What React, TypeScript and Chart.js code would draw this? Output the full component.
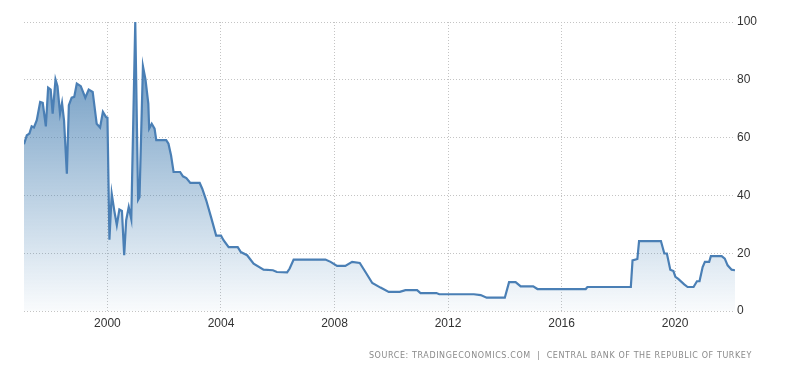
import React, { useEffect, useRef } from "react";
import { Chart, registerables } from "chart.js";

Chart.register(...registerables);

const dates: number[] = [
  1997.06, 1997.16, 1997.25, 1997.33, 1997.41, 1997.51, 1997.63, 1997.72, 1997.83, 1997.91,
  1998.0, 1998.07, 1998.17, 1998.24, 1998.33, 1998.4, 1998.47, 1998.57, 1998.64, 1998.74,
  1998.83, 1998.92, 1999.06, 1999.22, 1999.34, 1999.48, 1999.62, 1999.74, 1999.84, 1999.95,
  2000.0, 2000.07, 2000.15, 2000.24, 2000.33, 2000.42, 2000.51, 2000.59, 2000.66, 2000.75,
  2000.84, 2000.98, 2001.08, 2001.13, 2001.25, 2001.34, 2001.44, 2001.47, 2001.56, 2001.66,
  2001.72, 2002.07, 2002.15, 2002.24, 2002.33, 2002.56, 2002.66, 2002.78, 2002.92, 2003.25,
  2003.34, 2003.48, 2003.65, 2003.83, 2004.0, 2004.09, 2004.27, 2004.59, 2004.7, 2004.92,
  2005.15, 2005.5, 2005.83, 2005.97, 2006.33, 2006.42, 2006.56, 2007.68, 2007.86, 2008.09,
  2008.38, 2008.62, 2008.89, 2009.09, 2009.33, 2009.62, 2009.91, 2010.3, 2010.5, 2010.91,
  2011.03, 2011.59, 2011.69, 2012.91, 2013.15, 2013.36, 2014.0, 2014.15, 2014.38, 2014.56,
  2015.0, 2015.15, 2016.85, 2016.91, 2018.44, 2018.5, 2018.67, 2018.73, 2019.5, 2019.62,
  2019.71, 2019.83, 2019.94, 2020.01, 2020.11, 2020.32, 2020.44, 2020.65, 2020.77, 2020.86,
  2020.97, 2021.05, 2021.2, 2021.26, 2021.64, 2021.75, 2021.85, 2021.99, 2022.11,
];

const rates: number[] = [
  57.7, 60.8, 61.4, 63.9, 63.5, 66.0, 72.3, 72.0, 63.9, 77.3,
  76.6, 68.3, 80.1, 77.8, 68.3, 72.0, 66.0, 47.5, 71.2, 73.8,
  74.1, 78.7, 77.8, 73.8, 76.6, 75.8, 64.8, 63.5, 68.9, 67.1,
  66.9, 24.7, 40.6, 34.8, 29.7, 35.1, 34.6, 19.3, 31.4, 36.0,
  31.8, 100, 38.5, 39.4, 84.7, 80.1, 71.8, 63.1, 64.8, 63.1,
  59.1, 59.1, 57.9, 53.9, 48.1, 48.1, 46.6, 46.0, 44.3, 44.3,
  42.3, 38.3, 32.5, 26.1, 26.1, 24.5, 22.1, 22.1, 20.4, 19.3,
  16.4, 14.3, 14.1, 13.5, 13.4, 14.7, 17.8, 17.8, 17.0, 15.6,
  15.6, 17.0, 16.6, 13.5, 9.7, 8.1, 6.6, 6.6, 7.2, 7.2,
  6.2, 6.2, 5.8, 5.8, 5.5, 4.6, 4.6, 10.0, 10.0, 8.5,
  8.5, 7.6, 7.6, 8.3, 8.3, 17.5, 18.0, 24.2, 24.2, 19.9,
  19.9, 14.3, 13.8, 11.8, 11.1, 9.2, 8.3, 8.3, 10.3, 10.3,
  15.2, 17.0, 17.0, 19.0, 19.0, 18.1, 15.8, 14.3, 14.1,
];

const xTickYears: number[] = [2000, 2004, 2008, 2012, 2016, 2020];
const yTicks: number[] = [0, 20, 40, 60, 80, 100];
const sourceText = "SOURCE: TRADINGECONOMICS.COM  |  CENTRAL BANK OF THE REPUBLIC OF TURKEY";

export default function App() {
  const canvasRef = useRef<HTMLCanvasElement | null>(null);

  useEffect(() => {
    document.body.style.margin = "0";
    const canvas = canvasRef.current;
    if (!canvas) return;
    const points = dates.map((d, i) => ({ x: d, y: rates[i] }));
    const chart = new Chart(canvas, {
      type: "line",
      data: {
        datasets: [
          {
            data: points,
            borderColor: "#4a7fb5",
            borderWidth: 2.2,
            pointRadius: 0,
            tension: 0,
            fill: "origin",
            backgroundColor: (ctx: any) => {
              const area = ctx.chart.chartArea;
              if (!area) return "rgba(70,130,180,0.4)";
              const g = ctx.chart.ctx.createLinearGradient(0, area.top, 0, area.bottom);
              g.addColorStop(0, "rgba(60,118,172,0.85)");
              g.addColorStop(1, "rgba(70,130,180,0.03)");
              return g;
            },
          },
        ],
      },
      options: {
        animation: false,
        responsive: false,
        layout: { padding: { left: 24, top: 22, right: 0, bottom: 40 } },
        plugins: { legend: { display: false }, tooltip: { enabled: false } },
        scales: {
          x: {
            type: "linear",
            min: 1997.06,
            max: 2022.11,
            afterBuildTicks: (scale: any) => {
              scale.ticks = xTickYears.map((v) => ({ value: v }));
            },
            afterFit: (scale: any) => {
              scale.height = 22;
            },
            border: { display: false, dash: [1, 2] },
            grid: { color: "#c4c4c4", lineWidth: 1, drawTicks: false },
            ticks: {
              padding: 5,
              color: "#333",
              font: { family: "'Liberation Sans', Arial, sans-serif", size: 12 },
              callback: (v: any) => String(v),
              maxRotation: 0,
              autoSkip: false,
            },
          },
          y: {
            position: "right",
            min: 0,
            max: 100,
            afterBuildTicks: (scale: any) => {
              scale.ticks = yTicks.map((v) => ({ value: v }));
            },
            afterFit: (scale: any) => {
              scale.width = 65;
            },
            border: { display: false, dash: [1, 2] },
            grid: { color: "#c4c4c4", lineWidth: 1, drawTicks: false },
            ticks: {
              padding: 2,
              color: "#333",
              font: { family: "'Liberation Sans', Arial, sans-serif", size: 12 },
              callback: (v: any) => String(v),
            },
          },
        },
      },
    } as any);
    return () => chart.destroy();
  }, []);

  return (
    <div style={{ position: "absolute", left: 0, top: 0, width: 800, height: 373, background: "#fff" }}>
      <canvas ref={canvasRef} width={800} height={373} style={{ width: 800, height: 373, display: "block" }} />
      <div
        style={{
          position: "absolute",
          right: 48,
          top: 351,
          fontFamily: "'DejaVu Sans', sans-serif",
          fontSize: 8,
          letterSpacing: "0.6px",
          color: "#8a8a8a",
          whiteSpace: "pre",
        }}
      >
        {sourceText}
      </div>
    </div>
  );
}
